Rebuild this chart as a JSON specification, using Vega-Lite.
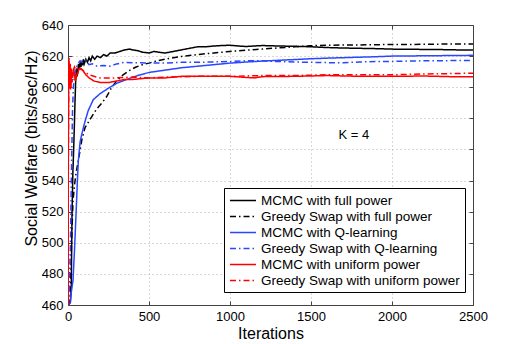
{
  "$schema": "https://vega.github.io/schema/vega-lite/v6.json",
  "width": 405,
  "height": 280,
  "autosize": {"type": "none"},
  "padding": {"left": 68, "top": 25, "right": 53, "bottom": 39},
  "background": "white",
  "config": {
    "view": {"stroke": null},
    "font": "Liberation Sans",
    "axis": {"labelFont": "Liberation Sans", "titleFont": "Liberation Sans", "labelColor": "black", "titleColor": "black", "titleFontWeight": "normal", "domainColor": "#444", "tickColor": "#444", "gridColor": "#b0b0b0", "gridDash": [1, 3], "labelFontSize": 13, "titleFontSize": 16}
  },
  "datasets": {
    "curves": [
      {"s":"MCMC with full power","x":0,"y":460},{"s":"MCMC with full power","x":15,"y":462},{"s":"MCMC with full power","x":20,"y":470},{"s":"MCMC with full power","x":25,"y":520},{"s":"MCMC with full power","x":30,"y":545},{"s":"MCMC with full power","x":35,"y":560},{"s":"MCMC with full power","x":40,"y":578},{"s":"MCMC with full power","x":43,"y":590},{"s":"MCMC with full power","x":47,"y":603},{"s":"MCMC with full power","x":52,"y":612},{"s":"MCMC with full power","x":56,"y":607},{"s":"MCMC with full power","x":60,"y":609},{"s":"MCMC with full power","x":65,"y":615},{"s":"MCMC with full power","x":70,"y":612},{"s":"MCMC with full power","x":75,"y":616},{"s":"MCMC with full power","x":80,"y":613},{"s":"MCMC with full power","x":85,"y":617},{"s":"MCMC with full power","x":90,"y":614},{"s":"MCMC with full power","x":95,"y":618},{"s":"MCMC with full power","x":100,"y":615},{"s":"MCMC with full power","x":110,"y":618},{"s":"MCMC with full power","x":120,"y":616},{"s":"MCMC with full power","x":130,"y":619},{"s":"MCMC with full power","x":140,"y":617},{"s":"MCMC with full power","x":150,"y":620},{"s":"MCMC with full power","x":165,"y":618},{"s":"MCMC with full power","x":180,"y":620},{"s":"MCMC with full power","x":200,"y":619},{"s":"MCMC with full power","x":220,"y":621},{"s":"MCMC with full power","x":240,"y":620},{"s":"MCMC with full power","x":260,"y":622},{"s":"MCMC with full power","x":290,"y":622},{"s":"MCMC with full power","x":320,"y":623},{"s":"MCMC with full power","x":350,"y":624},{"s":"MCMC with full power","x":380,"y":624.5},{"s":"MCMC with full power","x":400,"y":624},{"s":"MCMC with full power","x":430,"y":623.5},{"s":"MCMC with full power","x":460,"y":622.5},{"s":"MCMC with full power","x":500,"y":622},{"s":"MCMC with full power","x":530,"y":623},{"s":"MCMC with full power","x":560,"y":622.5},{"s":"MCMC with full power","x":600,"y":622},{"s":"MCMC with full power","x":650,"y":623},{"s":"MCMC with full power","x":700,"y":624},{"s":"MCMC with full power","x":750,"y":625},{"s":"MCMC with full power","x":800,"y":626},{"s":"MCMC with full power","x":850,"y":626},{"s":"MCMC with full power","x":900,"y":626.5},{"s":"MCMC with full power","x":950,"y":626.8},{"s":"MCMC with full power","x":1000,"y":627},{"s":"MCMC with full power","x":1050,"y":626.5},{"s":"MCMC with full power","x":1100,"y":626.2},{"s":"MCMC with full power","x":1150,"y":626.5},{"s":"MCMC with full power","x":1200,"y":626.8},{"s":"MCMC with full power","x":1300,"y":626.5},{"s":"MCMC with full power","x":1400,"y":626.3},{"s":"MCMC with full power","x":1500,"y":626},{"s":"MCMC with full power","x":1600,"y":625.5},{"s":"MCMC with full power","x":1700,"y":625.2},{"s":"MCMC with full power","x":1800,"y":625},{"s":"MCMC with full power","x":1900,"y":624.8},{"s":"MCMC with full power","x":2000,"y":624.5},{"s":"MCMC with full power","x":2100,"y":624.4},{"s":"MCMC with full power","x":2200,"y":624.3},{"s":"MCMC with full power","x":2300,"y":624.2},{"s":"MCMC with full power","x":2400,"y":624},{"s":"MCMC with full power","x":2500,"y":623.9},

      {"s":"Greedy Swap with full power","x":0,"y":460},{"s":"Greedy Swap with full power","x":10,"y":461},{"s":"Greedy Swap with full power","x":15,"y":470},{"s":"Greedy Swap with full power","x":22,"y":500},{"s":"Greedy Swap with full power","x":31,"y":527},{"s":"Greedy Swap with full power","x":40,"y":537},{"s":"Greedy Swap with full power","x":50,"y":545},{"s":"Greedy Swap with full power","x":64,"y":553},{"s":"Greedy Swap with full power","x":85,"y":566},{"s":"Greedy Swap with full power","x":105,"y":574},{"s":"Greedy Swap with full power","x":140,"y":580},{"s":"Greedy Swap with full power","x":177,"y":586},{"s":"Greedy Swap with full power","x":210,"y":590},{"s":"Greedy Swap with full power","x":239,"y":594},{"s":"Greedy Swap with full power","x":270,"y":600},{"s":"Greedy Swap with full power","x":300,"y":604},{"s":"Greedy Swap with full power","x":340,"y":608},{"s":"Greedy Swap with full power","x":383,"y":611},{"s":"Greedy Swap with full power","x":420,"y":613},{"s":"Greedy Swap with full power","x":460,"y":614.5},{"s":"Greedy Swap with full power","x":500,"y":615.5},{"s":"Greedy Swap with full power","x":550,"y":617},{"s":"Greedy Swap with full power","x":600,"y":618},{"s":"Greedy Swap with full power","x":650,"y":619},{"s":"Greedy Swap with full power","x":700,"y":619.8},{"s":"Greedy Swap with full power","x":800,"y":621},{"s":"Greedy Swap with full power","x":900,"y":622},{"s":"Greedy Swap with full power","x":1000,"y":623},{"s":"Greedy Swap with full power","x":1100,"y":623.8},{"s":"Greedy Swap with full power","x":1200,"y":624.5},{"s":"Greedy Swap with full power","x":1300,"y":625.3},{"s":"Greedy Swap with full power","x":1400,"y":626},{"s":"Greedy Swap with full power","x":1500,"y":626.7},{"s":"Greedy Swap with full power","x":1600,"y":627},{"s":"Greedy Swap with full power","x":1700,"y":627.1},{"s":"Greedy Swap with full power","x":1800,"y":627.2},{"s":"Greedy Swap with full power","x":1900,"y":627.3},{"s":"Greedy Swap with full power","x":2000,"y":627.5},{"s":"Greedy Swap with full power","x":2100,"y":627.5},{"s":"Greedy Swap with full power","x":2200,"y":627.6},{"s":"Greedy Swap with full power","x":2300,"y":627.7},{"s":"Greedy Swap with full power","x":2400,"y":627.8},{"s":"Greedy Swap with full power","x":2500,"y":627.8},

      {"s":"MCMC with Q-learning","x":0,"y":460},{"s":"MCMC with Q-learning","x":12,"y":461},{"s":"MCMC with Q-learning","x":20,"y":468},{"s":"MCMC with Q-learning","x":31,"y":476},{"s":"MCMC with Q-learning","x":40,"y":495},{"s":"MCMC with Q-learning","x":47,"y":512},{"s":"MCMC with Q-learning","x":53,"y":527},{"s":"MCMC with Q-learning","x":58,"y":540},{"s":"MCMC with Q-learning","x":64,"y":553},{"s":"MCMC with Q-learning","x":75,"y":565},{"s":"MCMC with Q-learning","x":90,"y":572},{"s":"MCMC with Q-learning","x":105,"y":578},{"s":"MCMC with Q-learning","x":125,"y":585},{"s":"MCMC with Q-learning","x":156,"y":592},{"s":"MCMC with Q-learning","x":200,"y":596},{"s":"MCMC with Q-learning","x":259,"y":600},{"s":"MCMC with Q-learning","x":300,"y":602.5},{"s":"MCMC with Q-learning","x":362,"y":605},{"s":"MCMC with Q-learning","x":430,"y":607.5},{"s":"MCMC with Q-learning","x":500,"y":609.5},{"s":"MCMC with Q-learning","x":600,"y":611},{"s":"MCMC with Q-learning","x":700,"y":612.5},{"s":"MCMC with Q-learning","x":800,"y":613.5},{"s":"MCMC with Q-learning","x":900,"y":614.5},{"s":"MCMC with Q-learning","x":1000,"y":615.5},{"s":"MCMC with Q-learning","x":1100,"y":616.2},{"s":"MCMC with Q-learning","x":1200,"y":616.8},{"s":"MCMC with Q-learning","x":1300,"y":617.3},{"s":"MCMC with Q-learning","x":1400,"y":617.8},{"s":"MCMC with Q-learning","x":1500,"y":618.3},{"s":"MCMC with Q-learning","x":1600,"y":618.7},{"s":"MCMC with Q-learning","x":1700,"y":619},{"s":"MCMC with Q-learning","x":1800,"y":619.3},{"s":"MCMC with Q-learning","x":1900,"y":619.6},{"s":"MCMC with Q-learning","x":2000,"y":620},{"s":"MCMC with Q-learning","x":2100,"y":620.1},{"s":"MCMC with Q-learning","x":2200,"y":620.2},{"s":"MCMC with Q-learning","x":2300,"y":620.3},{"s":"MCMC with Q-learning","x":2400,"y":620.4},{"s":"MCMC with Q-learning","x":2500,"y":620.5},

      {"s":"Greedy Swap with Q-learning","x":0,"y":460},{"s":"Greedy Swap with Q-learning","x":8,"y":470},{"s":"Greedy Swap with Q-learning","x":15,"y":500},{"s":"Greedy Swap with Q-learning","x":22,"y":550},{"s":"Greedy Swap with Q-learning","x":28,"y":585},{"s":"Greedy Swap with Q-learning","x":33,"y":600},{"s":"Greedy Swap with Q-learning","x":40,"y":608},{"s":"Greedy Swap with Q-learning","x":50,"y":612},{"s":"Greedy Swap with Q-learning","x":60,"y":615},{"s":"Greedy Swap with Q-learning","x":75,"y":617},{"s":"Greedy Swap with Q-learning","x":90,"y":616},{"s":"Greedy Swap with Q-learning","x":110,"y":617.5},{"s":"Greedy Swap with Q-learning","x":130,"y":614.5},{"s":"Greedy Swap with Q-learning","x":150,"y":615},{"s":"Greedy Swap with Q-learning","x":180,"y":613.5},{"s":"Greedy Swap with Q-learning","x":220,"y":614},{"s":"Greedy Swap with Q-learning","x":260,"y":613.5},{"s":"Greedy Swap with Q-learning","x":300,"y":615},{"s":"Greedy Swap with Q-learning","x":350,"y":616},{"s":"Greedy Swap with Q-learning","x":400,"y":615.8},{"s":"Greedy Swap with Q-learning","x":500,"y":615.5},{"s":"Greedy Swap with Q-learning","x":600,"y":615.5},{"s":"Greedy Swap with Q-learning","x":700,"y":616},{"s":"Greedy Swap with Q-learning","x":800,"y":616},{"s":"Greedy Swap with Q-learning","x":900,"y":616.3},{"s":"Greedy Swap with Q-learning","x":1000,"y":616.5},{"s":"Greedy Swap with Q-learning","x":1100,"y":617},{"s":"Greedy Swap with Q-learning","x":1200,"y":617},{"s":"Greedy Swap with Q-learning","x":1300,"y":616.5},{"s":"Greedy Swap with Q-learning","x":1400,"y":616.2},{"s":"Greedy Swap with Q-learning","x":1500,"y":616},{"s":"Greedy Swap with Q-learning","x":1600,"y":615.8},{"s":"Greedy Swap with Q-learning","x":1700,"y":615.8},{"s":"Greedy Swap with Q-learning","x":1800,"y":616.2},{"s":"Greedy Swap with Q-learning","x":1900,"y":616.5},{"s":"Greedy Swap with Q-learning","x":2000,"y":616.6},{"s":"Greedy Swap with Q-learning","x":2100,"y":616.8},{"s":"Greedy Swap with Q-learning","x":2200,"y":617},{"s":"Greedy Swap with Q-learning","x":2300,"y":617},{"s":"Greedy Swap with Q-learning","x":2400,"y":617.2},{"s":"Greedy Swap with Q-learning","x":2500,"y":617.2},

      {"s":"MCMC with uniform power","x":0,"y":460},{"s":"MCMC with uniform power","x":2,"y":560},{"s":"MCMC with uniform power","x":4,"y":600},{"s":"MCMC with uniform power","x":6,"y":617},{"s":"MCMC with uniform power","x":10,"y":604},{"s":"MCMC with uniform power","x":14,"y":615},{"s":"MCMC with uniform power","x":18,"y":600},{"s":"MCMC with uniform power","x":22,"y":610},{"s":"MCMC with uniform power","x":28,"y":606},{"s":"MCMC with uniform power","x":35,"y":612},{"s":"MCMC with uniform power","x":45,"y":604},{"s":"MCMC with uniform power","x":55,"y":608},{"s":"MCMC with uniform power","x":70,"y":612},{"s":"MCMC with uniform power","x":90,"y":611},{"s":"MCMC with uniform power","x":110,"y":608},{"s":"MCMC with uniform power","x":130,"y":606},{"s":"MCMC with uniform power","x":160,"y":604},{"s":"MCMC with uniform power","x":200,"y":603},{"s":"MCMC with uniform power","x":250,"y":603},{"s":"MCMC with uniform power","x":300,"y":604},{"s":"MCMC with uniform power","x":350,"y":605},{"s":"MCMC with uniform power","x":400,"y":605},{"s":"MCMC with uniform power","x":500,"y":606},{"s":"MCMC with uniform power","x":600,"y":606},{"s":"MCMC with uniform power","x":700,"y":607},{"s":"MCMC with uniform power","x":800,"y":607},{"s":"MCMC with uniform power","x":1000,"y":607},{"s":"MCMC with uniform power","x":1100,"y":606.3},{"s":"MCMC with uniform power","x":1150,"y":606},{"s":"MCMC with uniform power","x":1200,"y":606.8},{"s":"MCMC with uniform power","x":1400,"y":607},{"s":"MCMC with uniform power","x":1600,"y":607.5},{"s":"MCMC with uniform power","x":1800,"y":607},{"s":"MCMC with uniform power","x":2000,"y":607},{"s":"MCMC with uniform power","x":2200,"y":607.2},{"s":"MCMC with uniform power","x":2400,"y":606.7},{"s":"MCMC with uniform power","x":2500,"y":606.7},

      {"s":"Greedy Swap with uniform power","x":0,"y":460},{"s":"Greedy Swap with uniform power","x":2,"y":540},{"s":"Greedy Swap with uniform power","x":4,"y":590},{"s":"Greedy Swap with uniform power","x":6,"y":619},{"s":"Greedy Swap with uniform power","x":9,"y":600},{"s":"Greedy Swap with uniform power","x":12,"y":612},{"s":"Greedy Swap with uniform power","x":16,"y":598},{"s":"Greedy Swap with uniform power","x":20,"y":612},{"s":"Greedy Swap with uniform power","x":25,"y":603},{"s":"Greedy Swap with uniform power","x":30,"y":610},{"s":"Greedy Swap with uniform power","x":40,"y":613},{"s":"Greedy Swap with uniform power","x":50,"y":611},{"s":"Greedy Swap with uniform power","x":60,"y":613},{"s":"Greedy Swap with uniform power","x":80,"y":612},{"s":"Greedy Swap with uniform power","x":100,"y":610},{"s":"Greedy Swap with uniform power","x":130,"y":608},{"s":"Greedy Swap with uniform power","x":160,"y":607},{"s":"Greedy Swap with uniform power","x":200,"y":606},{"s":"Greedy Swap with uniform power","x":260,"y":606},{"s":"Greedy Swap with uniform power","x":300,"y":606},{"s":"Greedy Swap with uniform power","x":400,"y":606.5},{"s":"Greedy Swap with uniform power","x":500,"y":606},{"s":"Greedy Swap with uniform power","x":600,"y":606.5},{"s":"Greedy Swap with uniform power","x":800,"y":607},{"s":"Greedy Swap with uniform power","x":1000,"y":607},{"s":"Greedy Swap with uniform power","x":1200,"y":607.5},{"s":"Greedy Swap with uniform power","x":1400,"y":607.5},{"s":"Greedy Swap with uniform power","x":1600,"y":608},{"s":"Greedy Swap with uniform power","x":1800,"y":608},{"s":"Greedy Swap with uniform power","x":2000,"y":608},{"s":"Greedy Swap with uniform power","x":2200,"y":608.5},{"s":"Greedy Swap with uniform power","x":2500,"y":609}
    ]
  },
  "layer": [
    {
      "data": {"name": "curves"},
      "mark": {"type": "line", "strokeWidth": 1.5, "clip": true},
      "encoding": {
        "x": {"field": "x", "type": "quantitative", "scale": {"domain": [0, 2500], "nice": false, "zero": false},
              "axis": {"orient": "bottom", "title": "Iterations", "values": [0, 500, 1000, 1500, 2000, 2500], "format": "d", "grid": true, "tickSize": -4, "labelPadding": 9, "titleBaseline": "alphabetic", "titleY": 33, "labelFlush": false}},
        "y": {"field": "y", "type": "quantitative", "scale": {"domain": [460, 640], "nice": false, "zero": false},
              "axis": {"orient": "left", "title": "Social Welfare (bits/sec/Hz)", "values": [460, 480, 500, 520, 540, 560, 580, 600, 620, 640], "format": "d", "grid": true, "tickSize": -4, "labelPadding": 9, "titleX": -37, "titleY": 123, "titleAngle": -90, "titleBaseline": "middle", "titleAlign": "center", "labelFlush": false}},
        "color": {"field": "s", "type": "nominal",
                  "scale": {"domain": ["MCMC with full power", "Greedy Swap with full power", "MCMC with Q-learning", "Greedy Swap with Q-learning", "MCMC with uniform power", "Greedy Swap with uniform power"],
                            "range": ["#000000", "#000000", "#2a46ff", "#2a46ff", "#ff0000", "#ff0000"]},
                  "legend": {"orient": "none", "legendX": 156, "legendY": 163, "title": null, "symbolType": "M-1,0H3", "symbolSize": 169, "symbolStrokeWidth": 1.5, "labelFontSize": 13.5, "labelFont": "Liberation Sans", "labelColor": "black", "labelLimit": 400, "labelOffset": 17, "strokeColor": "black", "fillColor": "white", "padding": 5, "rowPadding": 2}},
        "strokeDash": {"field": "s", "type": "nominal",
                  "scale": {"domain": ["MCMC with full power", "Greedy Swap with full power", "MCMC with Q-learning", "Greedy Swap with Q-learning", "MCMC with uniform power", "Greedy Swap with uniform power"],
                            "range": [[1, 0], [6, 3, 1.5, 3], [1, 0], [6, 3, 1.5, 3], [1, 0], [6, 3, 1.5, 3]]},
                  "legend": null}
      }
    },
    {
      "data": {"values": [{"x": 1765, "y": 567, "label": "K = 4"}]},
      "mark": {"type": "text", "fontSize": 13, "font": "Liberation Sans", "align": "center", "baseline": "alphabetic", "color": "black"},
      "encoding": {
        "x": {"field": "x", "type": "quantitative", "axis": null},
        "y": {"field": "y", "type": "quantitative", "axis": null},
        "text": {"field": "label"}
      }
    },
    {
      "data": {"values": [{"x": 0, "y": 460}]},
      "mark": {"type": "point", "opacity": 0},
      "encoding": {
        "x": {"field": "x", "type": "quantitative", "axis": {"orient": "top", "title": null, "labels": false, "grid": false, "tickSize": -4, "values": [0, 500, 1000, 1500, 2000, 2500]}},
        "y": {"field": "y", "type": "quantitative", "axis": {"orient": "right", "title": null, "labels": false, "grid": false, "tickSize": -4, "values": [460, 480, 500, 520, 540, 560, 580, 600, 620, 640]}}
      }
    }
  ],
  "resolve": {"axis": {"x": "independent", "y": "independent"}}
}
